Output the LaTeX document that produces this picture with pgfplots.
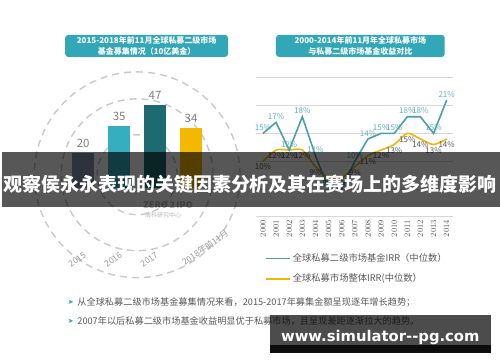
\documentclass[border=0pt]{standalone}
\usepackage{pgfplots}
\pgfplotsset{compat=1.18}
\usepackage{pgfplotstable}
\usepackage{fontspec}
\setmainfont{Noto Sans CJK SC}
\newfontfamily\dejavu{DejaVu Sans}
\definecolor{teal1}{HTML}{31A7B8}
\definecolor{barA}{HTML}{8494AE}
\definecolor{barB}{HTML}{35AEC0}
\definecolor{barC}{HTML}{1E6A72}
\definecolor{barD}{HTML}{F5B800}
\definecolor{lblue}{HTML}{4A9FB5}
\definecolor{lbluetxt}{HTML}{5FAFC4}
\definecolor{lyel}{HTML}{F2B705}
\definecolor{gridc}{HTML}{D9D9D9}
\definecolor{txt}{HTML}{595959}
\definecolor{circ}{HTML}{C5C9D1}

% offset under every bar (the bars of the reference start below zero)
\pgfplotstableread{
x base
0 25
1 25
2 25
3 25
}\basetab
\pgfplotstableread{
x y lab
0 20 20
1 0 {}
2 0 {}
3 0 {}
}\tA
\pgfplotstableread{
x y lab
0 0 {}
1 35 35
2 0 {}
3 0 {}
}\tB
\pgfplotstableread{
x y lab
0 0 {}
1 0 {}
2 47 47
3 0 {}
}\tC
\pgfplotstableread{
x y lab
0 0 {}
1 0 {}
2 0 {}
3 34 34
}\tD
\pgfplotstableread{
year sec all
2000 15 10
2001 17 12
2002 12 12
2003 18 12
2004 11 9
2005 5 7
2006 5 7
2007 10 9
2008 14 11
2009 15 12
2010 15 13
2011 18 15
2012 18 14
2013 15 13
2014 21 14
}\irr

\begin{document}
\begin{tikzpicture}
\begin{scope}[x=1pt,y=1pt]
\path[use as bounding box] (0,0) rectangle (500,362);
\fill[white] (0,0) rectangle (500,362);

% dashed circles
\draw[circ, line width=1.4pt, dash pattern=on 7pt off 5pt] (137,187) circle (103pt);
\draw[circ, line width=1.4pt, dash pattern=on 7pt off 5pt] (137,187) circle (76pt);
\draw[circ, line width=1.4pt, dash pattern=on 7pt off 5pt] (137,187) circle (40pt);

% titles
\node[fill=teal1, rounded corners=3pt, minimum width=163pt, minimum height=22pt, inner sep=1pt,
      text=white, font=\bfseries\fontsize{8}{10.5}\selectfont, align=center]
  at (146.5,316) {2015-2018年前11月全球私募二级市场\\基金募集情况（10亿美金）};
\node[fill=teal1, rounded corners=3pt, minimum width=169pt, minimum height=22pt, inner sep=1pt,
      text=white, font=\bfseries\fontsize{8}{10.5}\selectfont, align=center]
  at (360.5,316) {2000-2014年前11月年全球私募市场\\与私募二级市场基金收益对比};
\end{scope}

% left bar chart
\begin{axis}[at={(29pt,129pt)}, anchor=south west, scale only axis,
  width=180pt, height=142.2pt,
  xmin=-1.5, xmax=3.5, ymin=0, ymax=80, enlargelimits=false,
  ybar stacked, bar width=22pt,
  axis line style={draw=none}, tick style={draw=none}, ytick=\empty,
  xtick={0,1,2}, xticklabels={2015,2016,2017},
  extra x ticks={3}, extra x tick labels={2018年前11月},
  xticklabel style={xshift=-6pt, yshift=-27pt, rotate=35, anchor=center,
     font=\fontsize{8.5}{9}\selectfont, text=gray!80},
  extra x tick style={xticklabel style={xshift=23.3pt, yshift=-1.7pt}},
  clip=false]
\addplot[draw=none, fill=none, forget plot] table[x=x,y=base]{\basetab};
\addplot[draw=none, fill=barA, point meta=explicit symbolic, nodes near coords={\pgfplotspointmeta},
  every node near coord/.append style={anchor=south, yshift=19.8pt, font=\fontsize{11.5}{12}\selectfont, text=gray}]
  table[x=x,y=y,meta=lab]{\tA};
\addplot[draw=none, fill=barB, point meta=explicit symbolic, nodes near coords={\pgfplotspointmeta},
  every node near coord/.append style={anchor=south, yshift=33.1pt, font=\fontsize{11.5}{12}\selectfont, text=gray}]
  table[x=x,y=y,meta=lab]{\tB};
\addplot[draw=none, fill=barC, point meta=explicit symbolic, nodes near coords={\pgfplotspointmeta},
  every node near coord/.append style={anchor=south, yshift=43.8pt, font=\fontsize{11.5}{12}\selectfont, text=gray}]
  table[x=x,y=y,meta=lab]{\tC};
\addplot[draw=none, fill=barD, point meta=explicit symbolic, nodes near coords={\pgfplotspointmeta},
  every node near coord/.append style={anchor=south, yshift=32.2pt, font=\fontsize{11.5}{12}\selectfont, text=gray}]
  table[x=x,y=y,meta=lab]{\tD};
\end{axis}

% right line chart
\begin{axis}[at={(256.4pt,145pt)}, anchor=south west, scale only axis,
  width=197.1pt, height=139pt,
  xmin=1999.5, xmax=2014.5, ymin=0, ymax=25, enlargelimits=false,
  axis line style={draw=none}, tick style={draw=none},
  xtick={2000,2001,...,2014}, ytick={0,5,...,25}, yticklabels={},
  ymajorgrids, grid style={gridc, line width=0.8pt},
  /pgf/number format/1000 sep={},
  xticklabel style={rotate=90, anchor=east, font=\fontsize{8}{8}\selectfont, text=txt},
  legend style={at={(0.044,-0.25)}, anchor=north west, draw=none, fill=none,
     font=\fontsize{9.3}{10}\selectfont, text=txt, row sep=7pt, inner sep=0pt,
     cells={anchor=west}},
  legend image code/.code={\draw[#1, line width=1.6pt] (0pt,0pt) -- (24pt,0pt);},
  clip=false]
\addplot[lyel, line width=1.6pt, smooth, mark=none, forget plot,
  nodes near coords={\pgfmathprintnumber[assume math mode=true]{\pgfplotspointmeta}\%},
  every node near coord/.append style={anchor=north, font=\fontsize{8}{8}\selectfont, text=txt, inner sep=2pt}]
  table[x=year,y=all]{\irr};
\addplot[lblue, line width=1.6pt, mark=none,
  nodes near coords={\pgfmathprintnumber[assume math mode=true]{\pgfplotspointmeta}\%},
  every node near coord/.append style={anchor=south, font=\fontsize{8}{8}\selectfont, text=lbluetxt, inner sep=2pt}]
  table[x=year,y=sec]{\irr};
\addlegendentry{全球私募二级市场基金IRR（中位数）}
\addlegendimage{lyel, line width=1.6pt}
\addlegendentry{全球私募市场整体IRR(中位数）}
\end{axis}

\begin{scope}[x=1pt,y=1pt]
% logo
\node[text=gray!55, font=\bfseries\fontsize{9}{9}\selectfont] at (168,157) {ZERO\,2\,IPO};
\node[text=gray!55, font=\fontsize{6}{6}\selectfont] at (163,146) {清科研究中心};

% banner
\fill[black, opacity=0.66] (2,155) rectangle (500,210);
\node[text=white, font=\bfseries\fontsize{19}{19}\selectfont] at (250,177)
  {观察侯永永表现的关键因素分析及其在赛场上的多维度影响};

% bullets
\node[anchor=west, text=teal1, font=\dejavu\fontsize{7}{7}\selectfont] at (64,59) {➤};
\node[anchor=west, text=txt, font=\fontsize{9.2}{9.2}\selectfont, inner sep=0pt] at (77,59)
  {从全球私募二级市场基金募集情况来看，2015-2017年募集金额呈现逐年增长趋势；};
\node[anchor=west, text=teal1, font=\dejavu\fontsize{7}{7}\selectfont] at (64,40) {➤};
\node[anchor=west, text=txt, font=\fontsize{9.2}{9.2}\selectfont, inner sep=0pt] at (77,40)
  {2007年以后私募二级市场基金收益明显优于私募市场，且呈现差距逐渐拉大的趋势。};

% watermark
\fill[black, opacity=0.7] (270,17) rectangle (491,47);
\fill[black, opacity=0.95] (270,9) rectangle (491,17);
\node[anchor=base, text=white, font=\dejavu\bfseries\fontsize{14.8}{15}\selectfont, inner sep=0pt]
  at (380.5,20) {www.simulator--pg.com};
\end{scope}
\end{tikzpicture}
\end{document}
